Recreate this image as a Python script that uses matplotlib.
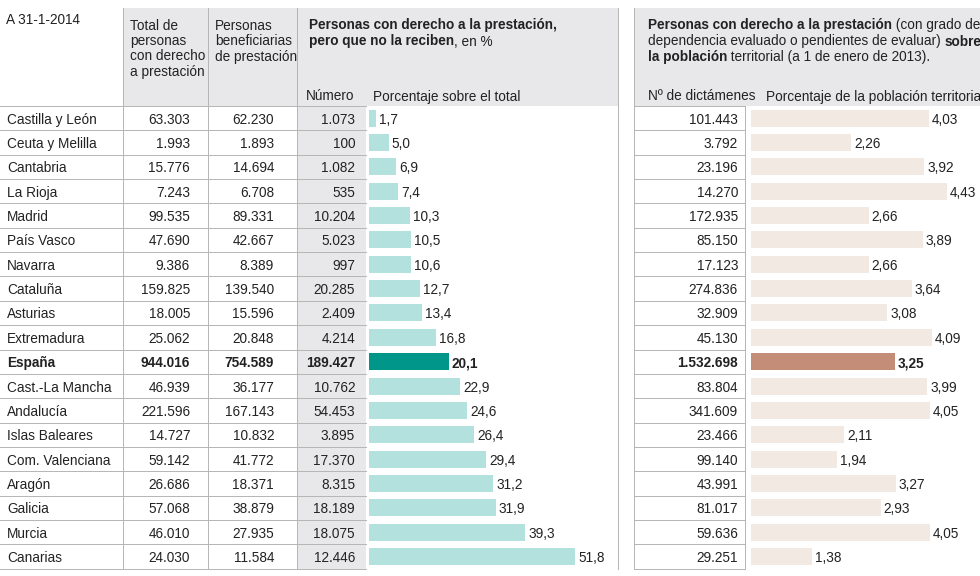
import matplotlib.pyplot as plt
import numpy as np

plt.rcParams['font.family'] = ['Liberation Sans', 'DejaVu Sans']

regions = ['Castilla y León', 'Ceuta y Melilla', 'Cantabria', 'La Rioja', 'Madrid',
           'País Vasco', 'Navarra', 'Cataluña', 'Asturias', 'Extremadura', 'España',
           'Cast.-La Mancha', 'Andalucía', 'Islas Baleares', 'Com. Valenciana',
           'Aragón', 'Galicia', 'Murcia', 'Canarias']
total = ['63.303', '1.993', '15.776', '7.243', '99.535', '47.690', '9.386', '159.825',
         '18.005', '25.062', '944.016', '46.939', '221.596', '14.727', '59.142',
         '26.686', '57.068', '46.010', '24.030']
benef = ['62.230', '1.893', '14.694', '6.708', '89.331', '42.667', '8.389', '139.540',
         '15.596', '20.848', '754.589', '36.177', '167.143', '10.832', '41.772',
         '18.371', '38.879', '27.935', '11.584']
numero = ['1.073', '100', '1.082', '535', '10.204', '5.023', '997', '20.285', '2.409',
          '4.214', '189.427', '10.762', '54.453', '3.895', '17.370', '8.315', '18.189',
          '18.075', '12.446']
pct = [1.7, 5.0, 6.9, 7.4, 10.3, 10.5, 10.6, 12.7, 13.4, 16.8, 20.1, 22.9, 24.6,
       26.4, 29.4, 31.2, 31.9, 39.3, 51.8]
dictamenes = ['101.443', '3.792', '23.196', '14.270', '172.935', '85.150', '17.123',
              '274.836', '32.909', '45.130', '1.532.698', '83.804', '341.609', '23.466',
              '99.140', '43.991', '81.017', '59.636', '29.251']
pob = [4.03, 2.26, 3.92, 4.43, 2.66, 3.89, 2.66, 3.64, 3.08, 4.09, 3.25, 3.99, 4.05,
       2.11, 1.94, 3.27, 2.93, 4.05, 1.38]

W, H = 980, 576
fig = plt.figure(figsize=(9.8, 5.76), dpi=100)
ax = fig.add_axes([0, 0, 1, 1])
ax.set_xlim(0, W)
ax.set_ylim(H, 0)
ax.axis('off')
renderer = fig.canvas.get_renderer()

gray = '#e8e8ea'
line = '#b5b5b5'
fs = 9.8
col = '#222222'
top, hdr = 8, 106
rh = 24.35
n = len(regions)
bottom = hdr + rh * n
yc = hdr + rh * (np.arange(n) + 0.5)
esp = regions.index('España')


def runs(x, y, pieces):
    # draw text pieces (text, bold) one after another on a line
    for txt, bold in pieces:
        t = ax.text(x, y, txt, fontsize=fs, va='center_baseline', color=col,
                    fontweight='bold' if bold else 'normal')
        bb = t.get_window_extent(renderer)
        x += bb.width


def lines(x, y, txt, step=15.5):
    for k, s in enumerate(txt.split('\n')):
        ax.text(x, y + k * step, s, fontsize=fs, va='center_baseline', color=col)


# header backgrounds
ax.add_patch(plt.Rectangle((123, top), 495, hdr - top, color=gray, lw=0))
ax.add_patch(plt.Rectangle((297, hdr), 69, bottom - hdr, color=gray, lw=0))
ax.add_patch(plt.Rectangle((634, top), 346, hdr - top, color=gray, lw=0))

# vertical lines
for x in [123, 208, 297, 618, 634]:
    ax.plot([x, x], [top, bottom], color=line, lw=0.7)
ax.plot([745, 745], [hdr, bottom], color=line, lw=0.7)

# horizontal row lines
for i in range(n + 1):
    y = hdr + rh * i
    ax.plot([0, 366], [y, y], color=line, lw=0.7)
    ax.plot([634, 745], [y, y], color=line, lw=0.7)

# header text
lines(6, 19, 'A 31-1-2014')
lines(130, 24, 'Total de\npersonas\ncon derecho\na prestación')
lines(215, 24, 'Personas\nbeneficiarias\nde prestación')
runs(309, 24, [('Personas con derecho a la prestación,', True)])
runs(309, 40, [('pero que no la reciben', True), (', en %', False)])
lines(306, 95, 'Número')
lines(373, 95, 'Porcentaje sobre el total')
runs(648, 24, [('Personas con derecho a la prestación', True), (' (con grado de', False)])
runs(648, 40, [('dependencia evaluado o pendientes de evaluar) ', False), ('sobre', True)])
runs(648, 56, [('la población', True), (' territorial (a 1 de enero de 2013).', False)])
lines(648, 95, 'Nº de dictámenes')
lines(766, 95, 'Porcentaje de la población territorial')

# rows
for i in range(n):
    fw = 'bold' if i == esp else 'normal'
    kw = dict(fontsize=fs, va='center_baseline', fontweight=fw, color=col)
    ax.text(7, yc[i], regions[i], **kw)
    ax.text(190, yc[i], total[i], ha='right', **kw)
    ax.text(274, yc[i], benef[i], ha='right', **kw)
    ax.text(355, yc[i], numero[i], ha='right', **kw)
    ax.text(738, yc[i], dictamenes[i], ha='right', **kw)

# bars (left): 1 % = 3.98 px
s1 = 3.98
c1 = ['#00968a' if i == esp else '#b3e2de' for i in range(n)]
ax.barh(yc, np.array(pct) * s1, left=369, height=17, color=c1)
for i in range(n):
    ax.text(369 + pct[i] * s1 + 3, yc[i], f'{pct[i]:.1f}'.replace('.', ','),
            fontsize=fs, va='center_baseline', color=col,
            fontweight='bold' if i == esp else 'normal')

# bars (right): 1 unit = 44.2 px
s2 = 44.2
c2 = ['#c48d78' if i == esp else '#f2e9e3' for i in range(n)]
ax.barh(yc, np.array(pob) * s2, left=751, height=17, color=c2)
for i in range(n):
    ax.text(751 + pob[i] * s2 + 3, yc[i], f'{pob[i]:.2f}'.replace('.', ','),
            fontsize=fs, va='center_baseline', color=col,
            fontweight='bold' if i == esp else 'normal')

fig.savefig('out.png', dpi=100)
